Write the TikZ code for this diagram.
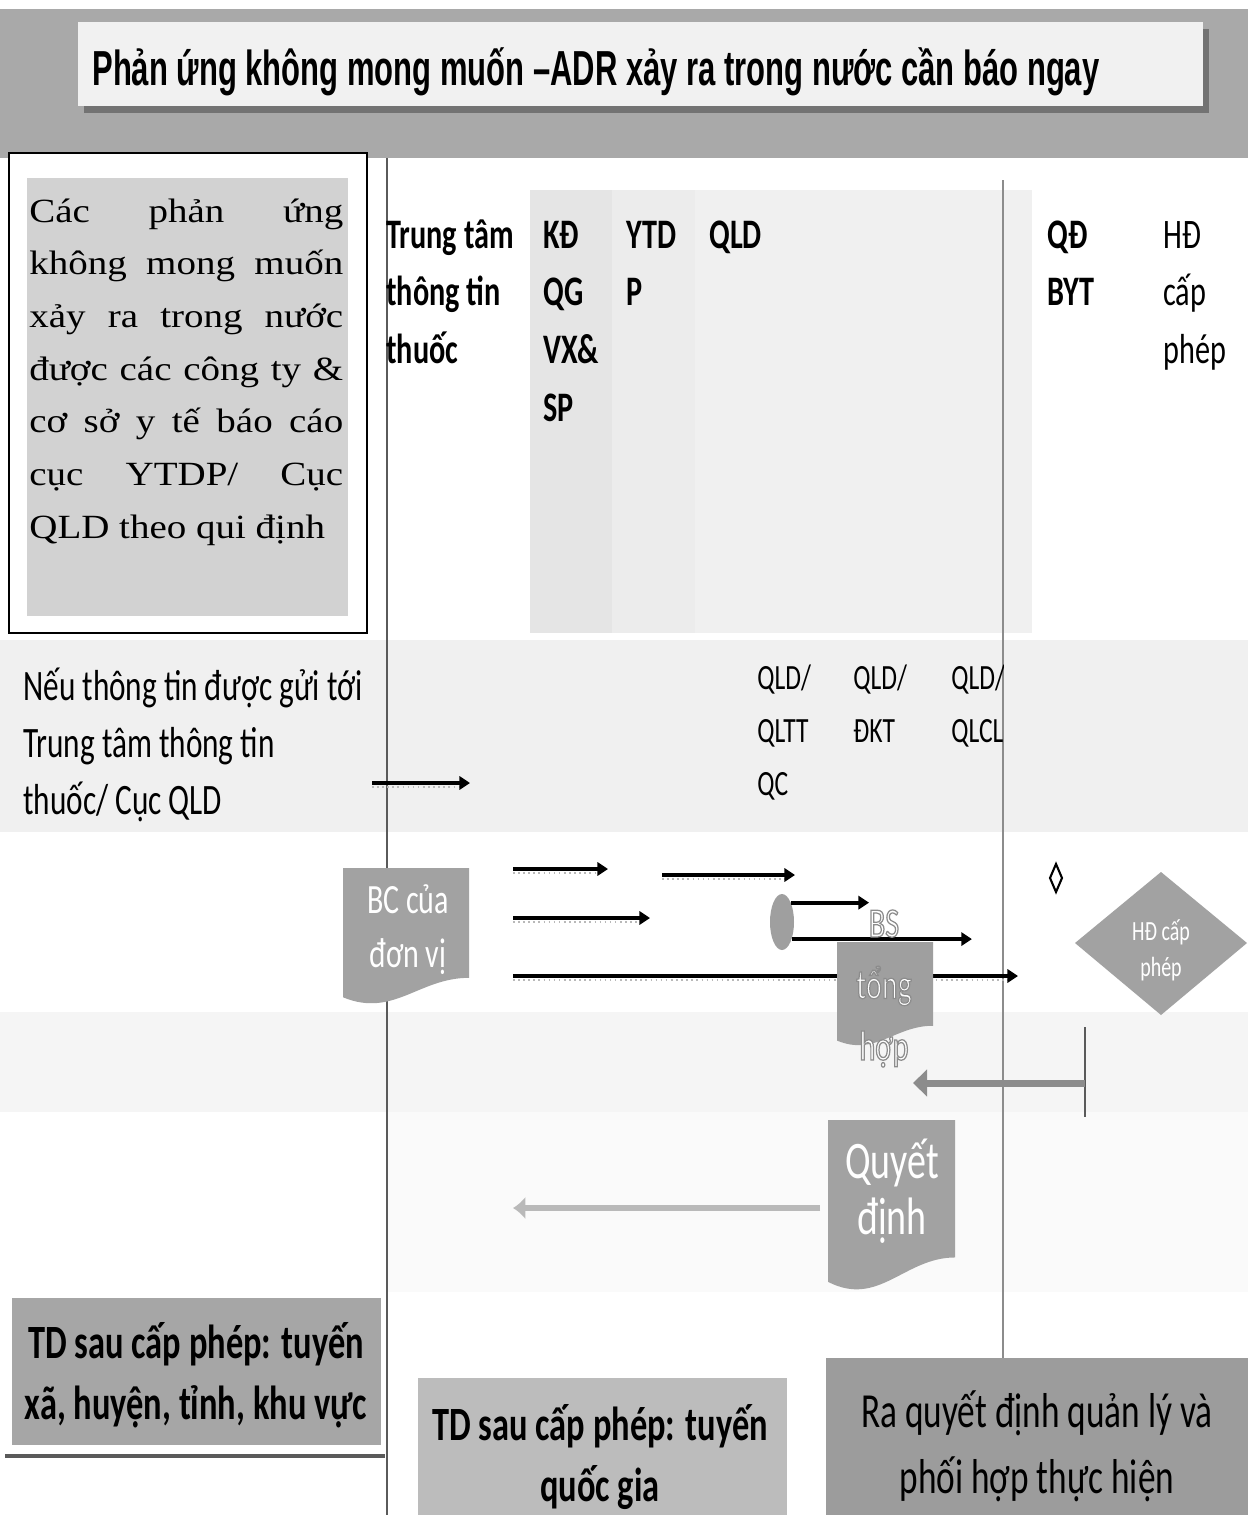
\documentclass[tikz,border=0pt]{standalone}
\usepackage{fontspec}
\setmainfont{Liberation Serif}
\newfontfamily\narrowsans[FakeStretch=0.72]{Carlito}
\newfontfamily\titlesans[FakeStretch=0.63]{Liberation Sans}
\newfontfamily\widerserif[FakeStretch=1.15]{Liberation Serif}
\usetikzlibrary{arrows.meta,shapes.geometric}

\definecolor{bandgray}{HTML}{A9A9A9}
\definecolor{titlebg}{HTML}{F1F1F1}
\definecolor{introgray}{HTML}{D2D2D2}
\definecolor{docgray}{HTML}{A2A2A2}
\definecolor{lanegray}{HTML}{5A5A5A}
\definecolor{boxleft}{HTML}{A6A6A6}
\definecolor{boxmid}{HTML}{BCBCBC}
\definecolor{boxright}{HTML}{9C9C9C}

% document symbol: x, top, width, height, colour
\newcommand\docshape[5]{%
  \fill[#5] (#1,#2) -- ++(#3,0) -- ++(0,{0.79*#4})
    .. controls +({-0.4*#3},0) and ({#1+0.4*#3},{#2+1.08*#4}) .. (#1,{#2+0.93*#4}) -- cycle;}
\newcommand\outlineon{\leavevmode\special{pdf:literal direct 2 Tr 0.55 G 0.7 w}}
\newcommand\outlineoff{\special{pdf:literal direct 0 Tr}}

\tikzset{
  lane/.style={draw=lanegray, line width=1.1pt},
  flow/.style={line width=2.3pt, -{Triangle[length=6pt,width=7.5pt]}},
  flowshade/.style={draw=gray!55, line width=0.9pt, dotted},
  back/.style={draw=gray!90, line width=4pt, -{Triangle[length=8pt,width=15pt]}},
  backlight/.style={draw=gray!55, line width=3.4pt, -{Latex[length=7pt,width=13pt]}},
  hd/.style={inner sep=0pt, anchor=base west, font=\narrowsans\bfseries\fontsize{23.9}{33}\selectfont},
  hdthin/.style={hd, font=\narrowsans\fontsize{23.9}{33}\selectfont},
  sub/.style={inner sep=0pt, anchor=base west, font=\narrowsans\fontsize{20.2}{30.2}\selectfont},
  note/.style={inner sep=0pt, anchor=base west, font=\narrowsans\fontsize{24.7}{32.7}\selectfont},
  doctext/.style={inner sep=0pt, anchor=base, text=white, font=\narrowsans\fontsize{23.7}{31}\selectfont},
  foot/.style={inner sep=0pt, anchor=base, font=\narrowsans\bfseries\fontsize{27.2}{35}\selectfont},
}

\begin{document}
\begin{tikzpicture}[x=0.02cm, y=-0.02cm]
	\useasboundingbox (0,0) rectangle (1248,1515);
	\fill[white] (0,0) rectangle (1248,1515);
	% shaded bands
	\fill[bandgray] (0,9) rectangle (1248,158);
	\fill[gray!12] (0,640) rectangle (1248,832);
	\fill[gray!8] (0,1012) rectangle (1248,1112);
	\fill[gray!4] (388,1112) rectangle (1248,1292);
	\fill[gray!12] (530,190) rectangle (1032,633);
	\fill[gray!20] (530,190) rectangle (612,633);
	\fill[gray!15] (612,190) rectangle (695,633);

	% title
	\fill[black!55] (84,29) rectangle (1209,113);
	\fill[titlebg] (78,22) rectangle (1203,106);
	\node[inner sep=0pt, anchor=base west, font=\titlesans\bfseries\fontsize{28}{30}\selectfont] (title) at (92,85)
		{Phản ứng không mong muốn –ADR xảy ra trong nước cần báo ngay};

	% intro box
	\draw[fill=white, line width=1pt] (9,153) rectangle (367,633);
	\fill[introgray] (27,178) rectangle (348,616);
	\node[inner sep=0pt, anchor=base west, font=\widerserif\fontsize{19.3}{30}\selectfont] (intro) at (29,222)
		{\parbox[t]{6.28cm}{\makebox[\linewidth][s]{Các phản ứng}\\
		\makebox[\linewidth][s]{không mong muốn}\\
		\makebox[\linewidth][s]{xảy ra trong nước}\\
		\makebox[\linewidth][s]{được các công ty \&}\\
		\makebox[\linewidth][s]{cơ sở y tế báo cáo}\\
		\makebox[\linewidth][s]{cục YTDP/ Cục}\\
		QLD theo qui định}};

	% lanes
	\draw[lane] (387,158) -- (387,1515);
	\draw[lane, draw=gray!90] (1003,180) -- (1003,1358);

	% headers
	\node[hd] (ttt) at (386,248) {\parbox[t]{4cm}{Trung tâm\\thông tin\\thuốc}};
	\node[hd] (kd) at (543,248) {\parbox[t]{2cm}{KĐ\\QG\\VX\&\\SP}};
	\node[hd] (ytd) at (626,248) {\parbox[t]{2cm}{YTD\\P}};
	\node[hd] (qld) at (709,248) {\parbox[t]{2cm}{QLD}};
	\node[hd] (qdbyt) at (1047,248) {\parbox[t]{2cm}{QĐ\\BYT}};
	\node[hdthin] (hdcp) at (1163,248) {\parbox[t]{2cm}{HĐ\\cấp\\phép}};

	\node[note] (neu) at (23,700) {\parbox[t]{8cm}{Nếu thông tin được gửi tới\\Trung tâm thông tin\\thuốc/ Cục QLD}};
	\node[sub] (qltt) at (757,689) {\parbox[t]{2cm}{QLD/\\QLTT\\QC}};
	\node[sub] (dkt) at (853,689) {\parbox[t]{2cm}{QLD/\\ĐKT}};
	\begin{scope}
		\clip (940,640) rectangle (1003,832);
		\node[sub] (qlcl) at (951,689) {\parbox[t]{2cm}{QLD/\\QLCL}};
	\end{scope}

	% flows
	\foreach \n/\xa/\xb/\yy in {f1/372/470/783, f2/513/608/869, f3/662/795/875,
			f4/513/650/918, f7/513/1018/976}{
		\draw[flowshade] (\xa,\yy+4) -- (\xb-8,\yy+4);
		\draw[flow] (\xa,\yy) coordinate (\n s) -- (\xb,\yy) coordinate (\n e);
	}
	\node[ellipse, fill=gray!75, minimum width=0.48cm, minimum height=1.12cm, inner sep=0pt] (ov) at (782,922) {};
	\draw[flow] (ov.65) -- ++(78,0) coordinate (f5e);
	\draw[flow] (ov.-60) -- ++(180,0) coordinate (f6e);

	% documents
	\docshape{343}{868}{126}{139}{docgray}
	\node[doctext] (bc) at (408,913) {\parbox[t]{3cm}{\centering BC của\\đơn vị}};
	\docshape{837}{942}{96}{106}{gray!75}
	\node[doctext, font=\narrowsans\fontsize{23.8}{35}\selectfont] (bs) at (884,937)
		{\parbox[t]{3cm}{\centering\outlineon BS\\tổng\\hợp\outlineoff}};
	\docshape{828}{1120}{127}{174}{docgray}
	\node[doctext, font=\narrowsans\fontsize{30}{32.4}\selectfont] (qd) at (892,1178)
		{\parbox[t]{3cm}{\centering Quyết\\định}};

	% licence decision
	\draw[line width=1.2pt] (1056,864) -- (1062,878) -- (1056,892) -- (1050,878) -- cycle;
	\fill[docgray] (1075,943) -- (1161,872) -- (1247,943) -- (1161,1015) -- cycle;
	\node[doctext, font=\narrowsans\fontsize{15.8}{21}\selectfont] (hdp) at (1161,940)
		{\parbox[t]{3cm}{\centering HĐ cấp\\phép}};

	% feedback
	\draw[lane, line width=1.5pt] (1085,1027) -- (1085,1117);
	\coordinate (tb) at (1085,1083);
	\draw[back] (tb) -- (913,1083);
	\coordinate (qdw) at (820,1208);
	\draw[backlight] (qdw) -- (513,1208);

	% footers
	\fill[boxleft] (12,1298) rectangle (381,1445);
	\draw[lanegray, line width=1.8pt] (5,1456) -- (385,1456);
	\node[foot] (tdlocal) at (196,1358) {\parbox[t]{8cm}{\centering TD sau cấp phép: tuyến\\xã, huyện, tỉnh, khu vực}};
	\fill[boxmid] (418,1378) rectangle (787,1515);
	\node[foot] (tdnat) at (600,1440) {\parbox[t]{8cm}{\centering TD sau cấp phép: tuyến\\quốc gia}};
	\fill[boxright] (826,1358) rectangle (1248,1515);
	\node[foot, font=\narrowsans\fontsize{27.9}{37.6}\selectfont] (decide) at (1037,1427)
		{\parbox[t]{8cm}{\centering Ra quyết định quản lý và\\phối hợp thực hiện}};
\end{tikzpicture}
\end{document}
